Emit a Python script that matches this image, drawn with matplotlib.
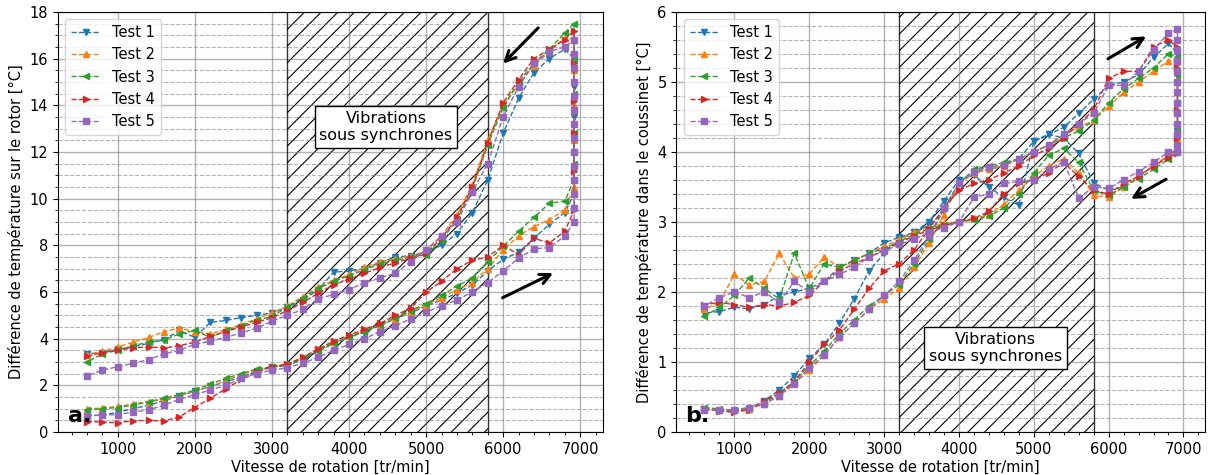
import matplotlib
matplotlib.use("Agg")
import matplotlib.pyplot as plt
from matplotlib.ticker import MultipleLocator, AutoMinorLocator

# speed grid (tr/min) shared by the ramp-up and ramp-down branches
speed = [600, 800, 1000, 1200, 1400, 1600, 1800, 2000, 2200, 2400, 2600,
         2800, 3000, 3200, 3400, 3600, 3800, 4000, 4200, 4400, 4600, 4800,
         5000, 5200, 5400, 5600, 5800, 6000, 6200, 6400, 6600, 6800]
dwell_speed = 6920

labels = ["Test 1", "Test 2", "Test 3", "Test 4", "Test 5"]
markers = ["v", "^", "<", ">", "s"]
colors = ["C0", "C1", "C2", "C3", "C4"]

# ---- a. rotor ----
rotor_up = [
    [0.70, 0.72, 0.85, 1.00, 1.15, 1.35, 1.55, 1.75, 1.95, 2.15, 2.35, 2.60, 2.80, 2.85, 3.10, 3.45,
     3.80, 4.05, 4.30, 4.55, 4.85, 5.10, 5.40, 5.65, 5.95, 6.30, 6.90, 7.40, 7.70, 8.30, 8.90, 9.40],
    [1.00, 1.02, 1.10, 1.20, 1.30, 1.40, 1.55, 1.75, 1.95, 2.20, 2.45, 2.65, 2.80, 2.90, 3.20, 3.55,
     3.85, 4.10, 4.35, 4.60, 4.85, 5.15, 5.45, 5.75, 6.10, 6.40, 7.00, 7.80, 8.40, 8.80, 9.10, 9.50],
    [0.95, 1.00, 1.05, 1.15, 1.30, 1.45, 1.60, 1.80, 2.05, 2.30, 2.50, 2.70, 2.80, 2.85, 3.15, 3.50,
     3.80, 4.05, 4.30, 4.60, 4.90, 5.20, 5.50, 5.85, 6.25, 6.60, 7.30, 7.95, 8.60, 9.20, 9.80, 9.90],
    [0.45, 0.42, 0.40, 0.48, 0.50, 0.47, 0.65, 1.05, 1.45, 1.85, 2.25, 2.55, 2.80, 2.90, 3.20, 3.55,
     3.90, 4.15, 4.40, 4.65, 5.00, 5.30, 6.00, 6.45, 7.00, 7.35, 7.50, 8.00, 7.60, 8.30, 8.10, 8.60],
    [0.70, 0.72, 0.75, 0.85, 0.95, 1.15, 1.40, 1.60, 1.80, 2.00, 2.30, 2.50, 2.65, 2.75, 2.95, 3.20,
     3.50, 3.75, 4.00, 4.30, 4.55, 4.85, 5.15, 5.40, 5.65, 6.00, 6.40, 6.90, 7.45, 7.85, 7.90, 8.40],
]
rotor_dwell = [
    [10.2, 12.0, 13.5, 14.8, 16.0],
    [10.5, 12.5, 14.0, 15.5, 16.8],
    [10.8, 11.5, 12.8, 14.5, 16.0, 17.5],
    [9.5, 11.2, 12.8, 14.2, 15.8, 17.2],
    [9.0, 9.6, 10.2, 10.8, 11.4, 12.0, 12.6, 13.2, 13.8, 14.4, 15.0, 15.6, 16.2, 16.8],
]
rotor_down = [
    [3.35, 3.40, 3.55, 3.65, 3.80, 3.95, 4.35, 4.05, 4.70, 4.78, 4.90, 5.00, 5.10, 5.35, 5.65, 6.10,
     6.85, 6.90, 7.00, 7.25, 7.50, 7.55, 7.70, 8.00, 8.50, 9.40, 10.80, 12.80, 14.30, 15.40, 16.00, 16.40],
    [3.30, 3.45, 3.65, 3.85, 4.05, 4.30, 4.45, 4.30, 4.20, 4.40, 4.60, 4.85, 5.10, 5.40, 5.80, 6.20,
     6.50, 6.75, 7.05, 7.30, 7.40, 7.55, 7.75, 8.40, 9.30, 10.60, 12.50, 14.00, 14.90, 15.70, 16.30, 16.90],
    [3.00, 3.35, 3.50, 3.70, 3.85, 3.95, 4.20, 4.35, 4.05, 4.35, 4.55, 4.80, 4.95, 5.35, 5.75, 6.15,
     6.45, 6.70, 6.95, 7.20, 7.35, 7.50, 7.60, 8.20, 9.10, 10.40, 12.30, 13.90, 15.00, 15.80, 16.40, 17.10],
    [3.25, 3.40, 3.50, 3.60, 3.65, 3.60, 3.70, 3.85, 4.10, 4.30, 4.50, 4.70, 4.90, 5.20, 5.55, 5.95,
     6.30, 6.55, 6.80, 7.05, 7.25, 7.45, 7.65, 8.30, 9.20, 10.50, 12.40, 14.10, 15.10, 16.00, 16.40, 16.80],
    [2.40, 2.65, 2.80, 2.95, 3.10, 3.35, 3.50, 3.75, 3.90, 4.05, 4.25, 4.45, 4.75, 5.00, 5.25, 5.70,
     5.90, 6.10, 6.40, 6.60, 6.80, 7.30, 7.80, 8.40, 9.00, 10.30, 11.50, 13.50, 14.80, 15.80, 16.30, 16.50],
]

# ---- b. coussinet ----
bearing_up = [
    [0.33, 0.30, 0.30, 0.32, 0.45, 0.60, 0.80, 1.05, 1.25, 1.55, 1.90, 2.30, 2.55, 2.75, 2.85, 2.95,
     3.15, 3.55, 3.70, 3.75, 3.80, 3.90, 4.15, 4.25, 4.35, 4.55, 4.75, 4.95, 5.00, 5.10, 5.35, 5.55],
    [0.33, 0.32, 0.31, 0.33, 0.40, 0.52, 0.70, 0.88, 1.10, 1.35, 1.55, 1.75, 1.90, 2.05, 2.35, 2.70,
     3.10, 3.55, 3.70, 3.75, 3.80, 3.90, 4.00, 4.10, 4.25, 4.35, 4.45, 4.65, 4.85, 5.00, 5.15, 5.30],
    [0.35, 0.33, 0.31, 0.34, 0.42, 0.55, 0.72, 0.95, 1.15, 1.40, 1.60, 1.80, 1.95, 2.10, 2.40, 2.75,
     3.20, 3.55, 3.75, 3.80, 3.85, 3.90, 4.00, 4.10, 4.20, 4.30, 4.45, 4.70, 4.90, 5.05, 5.20, 5.40],
    [0.33, 0.30, 0.28, 0.32, 0.45, 0.55, 0.72, 1.00, 1.25, 1.45, 1.75, 2.05, 2.30, 2.40, 2.60, 2.90,
     3.20, 3.45, 3.55, 3.60, 3.70, 3.80, 3.95, 4.05, 4.20, 4.40, 4.60, 5.05, 5.15, 5.15, 5.50, 5.60],
    [0.32, 0.31, 0.32, 0.35, 0.40, 0.52, 0.68, 0.92, 1.10, 1.35, 1.55, 1.75, 1.95, 2.15, 2.45, 2.80,
     3.20, 3.55, 3.72, 3.78, 3.82, 3.90, 4.00, 4.10, 4.25, 4.40, 4.55, 4.95, 4.95, 5.15, 5.45, 5.70],
]
bearing_dwell = [
    [5.4, 5.1, 4.7, 4.3, 4.05],
    [5.3, 5.0, 4.6, 4.2, 4.0],
    [5.35, 5.1, 4.7, 4.3, 4.0],
    [5.5, 5.25, 5.2, 4.6, 4.2, 3.98],
    [5.75, 5.6, 5.45, 5.3, 5.15, 5.0, 4.85, 4.7, 4.55, 4.4, 4.25, 4.1, 4.0],
]
bearing_down = [
    [1.70, 1.72, 1.78, 1.76, 1.82, 1.95, 2.00, 2.05, 2.15, 2.35, 2.45, 2.55, 2.70, 2.78, 2.85, 3.00,
     3.30, 3.60, 3.67, 3.50, 3.35, 3.24, 4.15, 4.25, 4.20, 3.98, 3.56, 3.45, 3.50, 3.65, 3.80, 3.95],
    [1.75, 1.85, 2.25, 2.10, 2.15, 2.55, 2.20, 2.25, 2.50, 2.35, 2.45, 2.55, 2.65, 2.75, 2.85, 2.92,
     2.98, 3.00, 3.05, 3.10, 3.25, 3.45, 3.65, 3.80, 3.90, 3.70, 3.38, 3.35, 3.50, 3.65, 3.80, 3.95],
    [1.65, 1.78, 1.95, 2.20, 2.05, 1.90, 2.55, 2.05, 2.40, 2.35, 2.45, 2.55, 2.62, 2.72, 2.82, 2.90,
     2.96, 3.00, 3.03, 3.08, 3.20, 3.40, 3.70, 3.95, 4.05, 3.85, 3.45, 3.38, 3.50, 3.62, 3.75, 3.90],
    [1.82, 1.85, 1.82, 1.78, 1.82, 1.80, 1.85, 1.95, 2.15, 2.30, 2.40, 2.50, 2.60, 2.70, 2.80, 2.88,
     2.95, 3.00, 3.05, 3.15, 3.40, 3.55, 3.60, 3.70, 3.85, 3.65, 3.45, 3.40, 3.55, 3.65, 3.80, 3.92],
    [1.80, 1.92, 2.00, 1.92, 2.00, 1.85, 2.15, 2.00, 2.15, 2.25, 2.35, 2.50, 2.58, 2.68, 2.75, 2.85,
     2.92, 3.00, 3.35, 3.40, 3.55, 3.58, 3.60, 3.75, 3.86, 3.34, 3.50, 3.48, 3.60, 3.72, 3.85, 4.00],
]

plt.rcParams["font.size"] = 10.5
plt.rcParams["hatch.linewidth"] = 0.8

fig = plt.figure(figsize=(12.1, 4.75), dpi=100)
ax1 = fig.add_axes([0.048, 0.0905, 0.450, 0.8845])
ax2 = fig.add_axes([0.559, 0.0905, 0.437, 0.8845])


def draw_panel(ax, up, dwell, down, ylim, ymajor, yminor_div, ylabel):
    # hatched zone of sub-synchronous vibrations
    ax.axvspan(3200, 5800, facecolor="none", edgecolor="black", hatch="//", linewidth=0, zorder=0)
    ax.axvline(3200, color="black", lw=1.0, alpha=0.8, zorder=1)
    ax.axvline(5800, color="black", lw=1.0, alpha=0.8, zorder=1)
    for i in range(5):
        x = speed + [dwell_speed] * len(dwell[i]) + speed[::-1]
        y = up[i] + dwell[i] + down[i][::-1]
        ax.plot(x, y, linestyle="--", marker=markers[i], color=colors[i],
                markersize=5, linewidth=1.0, label=labels[i], zorder=3)
    ax.set_xlim(225, 7290)
    ax.set_ylim(*ylim)
    ax.xaxis.set_major_locator(MultipleLocator(1000))
    ax.xaxis.set_minor_locator(AutoMinorLocator(5))
    ax.yaxis.set_major_locator(MultipleLocator(ymajor))
    ax.yaxis.set_minor_locator(AutoMinorLocator(yminor_div))
    ax.grid(which="major", color="gray", linewidth=1.0, alpha=0.6)
    ax.grid(which="minor", axis="y", color="gray", linestyle="--", linewidth=0.8, alpha=0.6)
    ax.set_axisbelow(True)
    ax.set_xlabel("Vitesse de rotation [tr/min]", labelpad=2)
    ax.set_ylabel(ylabel, labelpad=4)
    ax.legend(loc="upper left")


draw_panel(ax1, rotor_up, rotor_dwell, rotor_down, (0, 18), 2, 4,
           "Différence de température sur le rotor [°C]")
draw_panel(ax2, bearing_up, bearing_dwell, bearing_down, (0, 6), 1, 5,
           "Différence de température dans le coussinet [°C]")

box = dict(boxstyle="square,pad=0.3", facecolor="white", edgecolor="black")
ax1.text(4480, 13.07, "Vibrations\nsous synchrones", ha="center", va="center",
         fontsize=11.5, bbox=box, zorder=5)
ax2.text(4490, 1.2, "Vibrations\nsous synchrones", ha="center", va="center",
         fontsize=11.5, bbox=box, zorder=5)

arrow = dict(arrowstyle="->", color="black", lw=2.2, mutation_scale=18)
ax1.annotate("", xy=(5973, 15.7), xytext=(6480, 17.4), arrowprops=arrow)
ax1.annotate("", xy=(6680, 6.86), xytext=(5960, 5.7), arrowprops=arrow)
ax2.annotate("", xy=(6533, 5.67), xytext=(5960, 5.31), arrowprops=arrow)
ax2.annotate("", xy=(6267, 3.31), xytext=(6800, 3.63), arrowprops=arrow)

ax1.text(360, 0.45, "a.", fontsize=16, fontweight="bold", zorder=6)
ax2.text(345, 0.15, "b.", fontsize=16, fontweight="bold", zorder=6)

fig.savefig("out.png", dpi=100)
